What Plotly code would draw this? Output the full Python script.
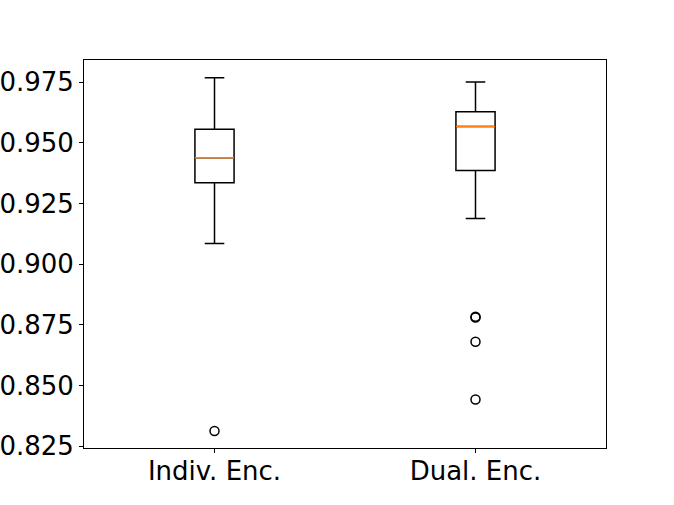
import plotly.graph_objects as go

# box statistics
labels = ["Indiv. Enc.", "Dual. Enc."]
positions = [1, 2]
lower_whisker = [0.9085, 0.9188]
q1 = [0.9335, 0.9386]
median = [0.9438, 0.9567]
q3 = [0.9556, 0.9628]
upper_whisker = [0.9768, 0.9750]
outlier_x = [1, 2, 2, 2, 2]
outlier_y = [0.8312, 0.8783, 0.8780, 0.8680, 0.8442]

box_w = 0.15

fig = go.Figure()
fig.add_trace(go.Box(
    x=positions, q1=q1, median=median, q3=q3,
    lowerfence=lower_whisker, upperfence=upper_whisker,
    width=box_w, whiskerwidth=0.5,
    line=dict(color="black", width=1.5), fillcolor="rgba(0,0,0,0)",
    boxpoints=False, showlegend=False, hoverinfo="skip",
))

# orange median lines drawn over the black box median
mx, my = [], []
for p, m in zip(positions, median):
    mx += [p - box_w / 2, p + box_w / 2, None]
    my += [m, m, None]
fig.add_trace(go.Scatter(x=mx, y=my, mode="lines",
                         line=dict(color="#ff7f0e", width=1.5),
                         showlegend=False, hoverinfo="skip"))

fig.add_trace(go.Scatter(x=outlier_x, y=outlier_y, mode="markers",
                         marker=dict(symbol="circle-open", size=9,
                                     color="black", line=dict(width=1.5)),
                         showlegend=False, hoverinfo="skip"))

font = dict(family="DejaVu Sans", size=26, color="black")
fig.update_layout(
    width=674, height=505,
    margin=dict(l=84, r=68, t=60, b=57),
    plot_bgcolor="white", paper_bgcolor="white",
    font=font,
)
fig.update_xaxes(range=[0.5, 2.5], tickvals=positions, ticktext=labels,
                 showgrid=False, zeroline=False, showline=True, mirror=True,
                 linecolor="black", linewidth=1, ticks="outside", ticklen=4,
                 tickcolor="black", tickfont=font, automargin=False,
                 ticklabelstandoff=-4)
fig.update_yaxes(range=[0.8242, 0.9841], tickvals=[0.825, 0.85, 0.875, 0.9, 0.925, 0.95, 0.975],
                 tickformat=".3f",
                 showgrid=False, zeroline=False, showline=True, mirror=True,
                 linecolor="black", linewidth=1, ticks="outside", ticklen=4,
                 tickcolor="black", tickfont=font, automargin=False)

# figure fills the window from its top-left corner, like the saved image
fig.write_html("out.html", config={"displayModeBar": False},
               post_script="document.body.style.margin='0';")
